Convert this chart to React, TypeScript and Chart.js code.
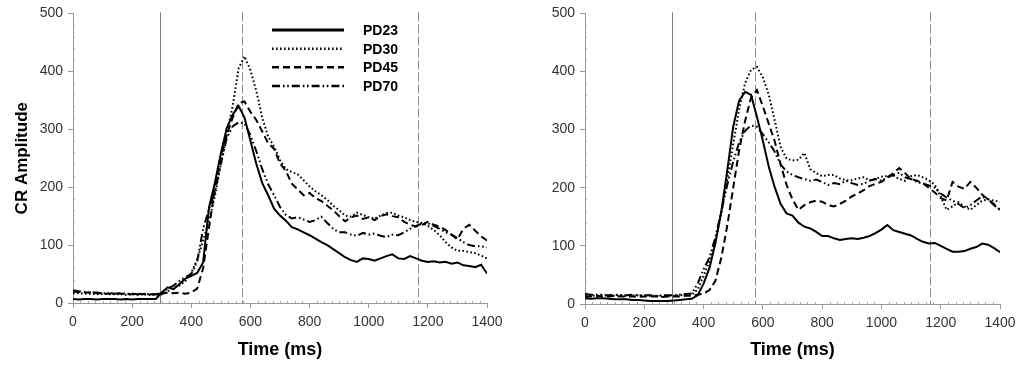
import React, { useEffect, useRef } from "react";
import { Chart, registerables } from "chart.js";

Chart.register(...registerables);

// ---------- DATA ----------
const TIME = [0,20,40,60,80,100,120,140,160,180,200,220,240,260,280,300,320,340,360,380,400,420,440,460,480,500,520,540,560,580,600,620,640,660,680,700,720,740,760,780,800,820,840,860,880,900,920,940,960,980,1000,1020,1040,1060,1080,1100,1120,1140,1160,1180,1200,1220,1240,1260,1280,1300,1320,1340,1360,1380,1400];

const SERIES_NAMES = ["PD23", "PD30", "PD45", "PD70"];

// Left panel
const L_PD23 = [7,6,7,7,6,7,7,7,6,7,6,7,7,7,7, 18,27,24,33,42,47,52,70,165,208,258,302,325,340,320, 280,240,207,186,163,151,142,131,127,122, 117,111,105,100,93,86,79,74,71,77, 76,73,77,81,84,77,76,81,77,73, 71,72,70,71,68,70,65,64,62,66, 51];
const L_PD30 = [17,17,16,16,15,16,15,15,15,14,15,14,15,14,14, 15,20,26,30,38,52,75,108,142,185,240,292,340,405,426, 402,366,320,287,270,247,231,226,222,212, 201,193,186,178,168,160,151,149,156,152, 148,146,151,155,156,151,148,143,140,138, 133,126,117,105,96,90,90,88,86,82, 77];
const L_PD45 = [20,19,18,18,17,17,16,17,16,16,15,16,15,15,15, 16,18,17,18,16,18,25,60,130,198,255,290,320,345,348, 330,316,296,276,266,241,228,206,196,186, 190,181,176,168,160,150,141,148,151,145, 148,143,150,153,150,148,140,135,132,135, 140,135,132,126,118,110,128,135,125,115, 108];
const L_PD70 = [22,20,19,18,18,17,17,16,17,16,16,15,16,15,15, 17,25,30,38,45,50,72,128,162,192,240,285,305,312,310, 290,262,231,205,186,166,152,146,148,144, 140,143,149,138,128,122,122,118,116,121, 118,120,116,114,118,117,122,128,133,137, 138,133,128,122,118,112,105,100,98,98, 96];

// Right panel
const R_PD23 = [10,9,10,10,9,8,8,8,7,7,6,5,5,5,5, 6,7,8,9,15,35,62,105,160,230,305,350,365,360,322, 281,236,201,172,156,152,140,133,130,124, 117,117,113,110,112,113,112,114,117,122, 128,136,127,124,121,118,112,107,104,105, 100,95,90,90,91,95,98,104,102,96, 89];
const R_PD30 = [15,15,14,15,14,14,15,14,14,15,14,14,14,13,14, 14,15,15,16,25,48,75,110,155,215,275,335,380,403,408, 390,360,316,270,250,247,248,260,232,225, 220,222,222,216,213,213,216,218,213,215, 219,220,221,215,212,220,222,218,213,205, 185,162,168,175,168,162,170,178,180,178, 176];
const R_PD45 = [13,13,14,13,13,14,13,13,13,12,13,13,13,12,13, 13,13,14,14,16,18,24,40,80,135,200,265,315,355,368, 340,310,280,240,205,180,162,170,175,178, 176,170,168,172,178,185,190,196,203,207, 210,218,225,234,225,215,212,208,200,192, 182,178,210,202,198,210,200,188,180,172, 162];
const R_PD70 = [17,16,16,16,15,16,15,15,16,15,15,15,14,15,15, 15,16,17,18,35,60,80,115,160,205,245,278,298,307,305, 292,278,262,240,228,222,218,215,212,214, 210,205,208,206,212,208,205,207,212,215, 212,218,222,226,218,215,210,207,204,200, 190,183,178,172,165,170,178,185,180,170, 162];

const X_STEP = 200;
const Y_STEP = 100;
const STIMULUS_ONSET = 295;      // solid vertical marker (ms)
const DASHED_MARKERS = [572, 1165]; // dashed vertical markers (ms)

// ---------- STYLE ----------
const FONT = 'Arial, "Liberation Sans", sans-serif';
const DASHES: number[][] = [[], [1.6, 2.4], [7, 4], [8, 3, 1.6, 2.6, 1.6, 3]];

const overlayPlugin = {
  id: "overlay",
  beforeDatasetsDraw(chart: any, _args: any, opts: any) {
    const { ctx, chartArea, scales } = chart;
    const xs = scales.x;
    const ys = scales.y;
    ctx.save();
    // minor ticks
    ctx.strokeStyle = "#aaa";
    ctx.lineWidth = 1;
    ctx.beginPath();
    for (let v = 25; v < 1400; v += 25) {
      if (v % 200 === 0) continue;
      const px = Math.round(xs.getPixelForValue(v)) + 0.5;
      ctx.moveTo(px, chartArea.bottom);
      ctx.lineTo(px, chartArea.bottom - 2);
    }
    for (let v = 20; v < 500; v += 20) {
      if (v % 100 === 0) continue;
      const py = Math.round(ys.getPixelForValue(v)) + 0.5;
      ctx.moveTo(chartArea.left, py);
      ctx.lineTo(chartArea.left + 2, py);
    }
    ctx.stroke();
    // vertical markers
    const top = chartArea.top - 1;
    const bottom = chartArea.bottom;
    ctx.strokeStyle = "#7a7a7a";
    ctx.setLineDash([]);
    let px = Math.round(xs.getPixelForValue(STIMULUS_ONSET)) + 0.5;
    ctx.beginPath();
    ctx.moveTo(px, top);
    ctx.lineTo(px, bottom);
    ctx.stroke();
    ctx.strokeStyle = "#8a8a8a";
    ctx.setLineDash([9, 3]);
    for (const m of DASHED_MARKERS) {
      px = Math.round(xs.getPixelForValue(m)) + 0.5;
      ctx.beginPath();
      ctx.moveTo(px, top);
      ctx.lineTo(px, bottom);
      ctx.stroke();
    }
    ctx.restore();
  },
  afterDraw(chart: any, _args: any, opts: any) {
    if (!opts || !opts.legend) return;
    const { ctx } = chart;
    const rows = [30, 48.7, 67.3, 86];
    ctx.save();
    SERIES_NAMES.forEach((name, i) => {
      const y = rows[i];
      ctx.strokeStyle = "#000";
      ctx.lineWidth = i === 0 ? 3 : 2.4;
      ctx.setLineDash(DASHES[i]);
      ctx.beginPath();
      ctx.moveTo(272, y);
      ctx.lineTo(344, y);
      ctx.stroke();
      ctx.setLineDash([]);
      ctx.fillStyle = "#000";
      ctx.font = `bold 14px ${FONT}`;
      ctx.textBaseline = "middle";
      ctx.textAlign = "left";
      ctx.fillText(name, 363, y + 1);
    });
    ctx.restore();
  },
};

type PanelProps = {
  series: number[][];
  left: number;
  rightPad: number;
  xHeight: number;
  showLegend: boolean;
  showYTitle: boolean;
};

function Panel({ series, left, rightPad, xHeight, showLegend, showYTitle }: PanelProps) {
  const ref = useRef<HTMLCanvasElement>(null);
  useEffect(() => {
    const chart = new Chart(ref.current as HTMLCanvasElement, {
      type: "line",
      data: {
        datasets: series.map((vals, i) => ({
          label: SERIES_NAMES[i],
          data: TIME.map((t, k) => ({ x: t, y: vals[k] })),
          borderColor: "#000",
          borderWidth: 2,
          borderDash: DASHES[i],
          pointRadius: 0,
          fill: false,
          tension: 0,
        })),
      },
      options: {
        responsive: false,
        animation: false,
        layout: { padding: { left: 0, right: rightPad, top: 13, bottom: 0 } },
        plugins: {
          legend: { display: false },
          tooltip: { enabled: false },
          overlay: { legend: showLegend },
        } as any,
        scales: {
          x: {
            type: "linear",
            min: 0,
            max: 1400,
            ticks: {
              stepSize: X_STEP,
              color: "#333",
              font: { family: FONT, size: 14 },
              padding: 6,
              maxRotation: 0,
              autoSkip: false,
              callback: (v: any) => String(v),
            },
            grid: { display: true, drawOnChartArea: false, drawTicks: true, tickLength: 5, color: "#999" },
            border: { display: true, color: "#999" },
            title: {
              display: true,
              text: "Time (ms)",
              color: "#000",
              font: { family: FONT, size: 18, weight: "bold" },
              padding: { top: 0, bottom: 8 },
            },
            afterFit: (s: any) => {
              s.height = xHeight;
            },
          },
          y: {
            type: "linear",
            min: 0,
            max: 500,
            ticks: {
              stepSize: Y_STEP,
              color: "#333",
              font: { family: FONT, size: 14 },
              padding: 5,
              callback: (v: any) => String(v),
            },
            grid: { display: true, drawOnChartArea: false, drawTicks: true, tickLength: 5, color: "#999" },
            border: { display: true, color: "#999" },
            title: {
              display: showYTitle,
              text: "CR Amplitude",
              color: "#000",
              font: { family: FONT, size: 17, weight: "bold" },
              padding: { top: 12, bottom: 0 },
            },
            afterFit: (s: any) => {
              s.width = 73;
            },
          },
        },
      } as any,
      plugins: [overlayPlugin as any],
    });
    return () => chart.destroy();
  }, []);
  return (
    <canvas
      ref={ref}
      width={512}
      height={369}
      style={{ position: "absolute", left, top: 0, width: 512, height: 369 }}
    />
  );
}

export default function App() {
  return (
    <div style={{ position: "fixed", left: 0, top: 0, width: 1024, height: 369, background: "#fff" }}>
      <Panel
        series={[L_PD23, L_PD30, L_PD45, L_PD70]}
        left={0}
        rightPad={25}
        xHeight={66}
        showLegend={true}
        showYTitle={true}
      />
      <Panel
        series={[R_PD23, R_PD30, R_PD45, R_PD70]}
        left={512}
        rightPad={24}
        xHeight={65}
        showLegend={false}
        showYTitle={false}
      />
    </div>
  );
}
